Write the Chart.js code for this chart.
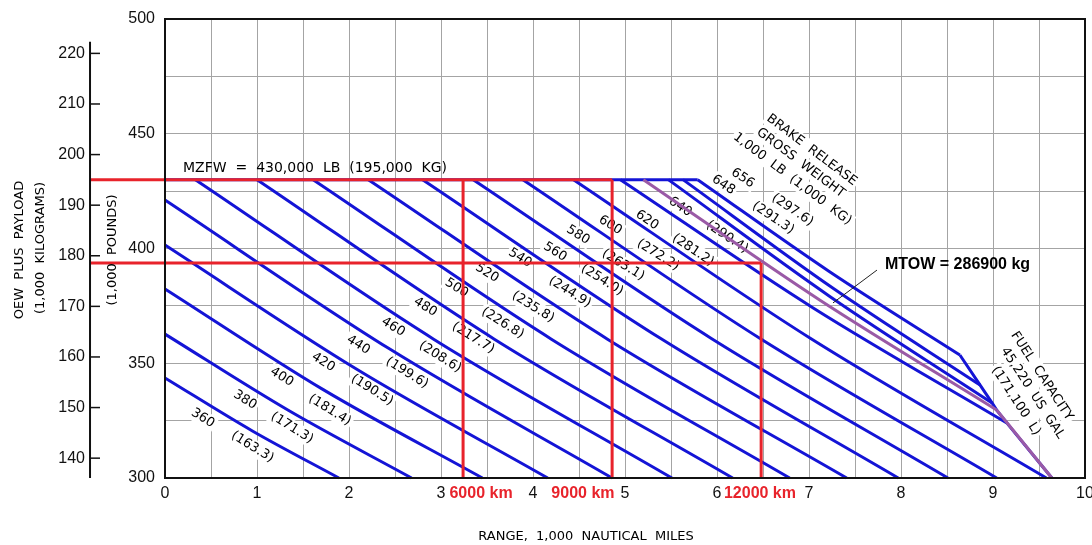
<!DOCTYPE html>
<html>
<head>
<meta charset="utf-8">
<script src="https://cdn.jsdelivr.net/npm/chart.js@4.4.0/dist/chart.umd.min.js"></script>
<style>
  html, body { margin: 0; padding: 0; background: #fff; }
  #wrap { width: 1092px; height: 545px; }
</style>
</head>
<body>
<div id="wrap"><canvas id="rangeChart" width="1092" height="545"></canvas></div>
<script>
// x = range (1,000 nm), y = OEW plus payload (1,000 lb)
const gw360 = [[0, 343.6], [0.95, 320.5], [1.89, 300]];
const gw380 = [[0, 362.7], [1.34, 329.5], [2.68, 300]];
const gw400 = [[0, 382.4], [1.72, 338.5], [3.45, 300]];
const gw420 = [[0, 401.5], [2.08, 347.5], [4.16, 300]];
const gw440 = [[0, 421.1], [2.43, 356.5], [4.86, 300]];
const gw460 = [[0.33, 430], [2.92, 360.5], [5.51, 300]];
const gw480 = [[1.00, 430], [3.58, 360.5], [6.17, 300]];
const gw500 = [[1.61, 430], [4.20, 360.5], [6.79, 300]];
const gw520 = [[2.21, 430], [4.81, 360.5], [7.41, 300]];
const gw540 = [[2.80, 430], [5.38, 361], [7.97, 300]];
const gw560 = [[3.35, 430], [5.93, 361], [8.51, 300]];
const gw580 = [[3.89, 430], [6.46, 361], [9.04, 300]];
const gw600 = [[4.44, 430], [7.01, 361], [9.58, 300]];
const gw620 = [[4.95, 430], [7.05, 374], [9.15, 324.0]];
const gw640 = [[5.47, 430], [7.23, 379], [8.99, 332.7]];
const gw648 = [[5.63, 430], [7.25, 383], [8.86, 340.5]];
const gw656 = [[5.79, 430], [7.22, 390], [8.64, 353.6]];
const mzfwCap = [[0, 430], [5.79, 430]];
const fuelLimit = [[8.64, 353.6], [8.86, 340.5], [8.99, 332.7], [9.04, 329.6], [9.15, 324.0], [9.64, 300]];
const mtowLine = [[5.20, 430], [7.12, 377.5], [9.04, 329.6]];
const mtowFuel = [[9.04, 329.6], [9.64, 300]];

const weightLines = [gw360, gw380, gw400, gw420, gw440, gw460, gw480, gw500, gw520,
  gw540, gw560, gw580, gw600, gw620, gw640, gw648, gw656];
const weightLb = ['360', '380', '400', '420', '440', '460', '480', '500', '520',
  '540', '560', '580', '600', '620', '640', '648', '656'];
const weightKg = ['(163.3)', '(171.3)', '(181.4)', '(190.5)', '(199.6)', '(208.6)', '(217.7)',
  '(226.8)', '(235.8)', '(244.9)', '(254.0)', '(263.1)', '(272.2)', '(281.2)', '(290.4)',
  '(291.3)', '(297.6)'];

// red reading lines
const kmNames = ['6000 km', '9000 km', '12000 km'];
const kmRangeNm = [3.24, 4.86, 6.48];
const mzfwLb = 430;
const mtowZfwLb = 393.7;
const kgAxisX = -0.815;

const rangeTicks = [0, 1, 2, 3, 4, 5, 6, 7, 8, 9, 10];
const lbTicks = [300, 350, 400, 450, 500];
const kgTicks = [140, 150, 160, 170, 180, 190, 200, 210, 220];
const LB_PER_KG = 2.20462;

// where the line labels sit (range, lb)
const lbLabelPos = [[0.41, 326.1], [0.87, 334.0], [1.27, 344.0], [1.72, 350.5], [2.10, 358.0],
  [2.48, 365.8], [2.83, 374.5], [3.17, 382.8], [3.50, 389.3], [3.86, 395.9], [4.24, 398.5],
  [4.49, 405.9], [4.84, 410.2], [5.24, 412.4], [5.60, 418.1], [6.07, 427.7], [6.28, 430.7]];
const kgLabelPos = [[0.95, 313.5], [1.38, 321.8], [1.79, 329.6], [2.25, 338.3], [2.63, 345.8],
  [2.99, 352.7], [3.35, 361.0], [3.67, 367.5], [4.00, 374.5], [4.40, 381.0], [4.75, 386.3],
  [4.98, 392.8], [5.36, 397.2], [5.74, 399.3], [6.11, 405.0], [6.61, 413.3], [6.82, 416.8]];

const BLUE = '#1414d6';
const RED = '#e8232b';
const PURPLE = '#9a5aa6';
const CAD = '13px "DejaVu Sans", sans-serif';

const pts = arr => arr.map(p => ({ x: p[0], y: p[1] }));

function lineSet(data, color, order, smooth) {
  return {
    data: pts(data),
    showLine: true,
    borderColor: color,
    borderWidth: 3,
    pointRadius: 0,
    tension: 0,
    cubicInterpolationMode: smooth ? 'monotone' : 'default',
    order: order,
    clip: false
  };
}

const datasets = [];
weightLines.forEach(l => datasets.push(lineSet(l, BLUE, 3, true)));
datasets.push(lineSet(mzfwCap, BLUE, 3, false));
datasets.push(lineSet(fuelLimit, BLUE, 3, false));
datasets.push(lineSet(mtowLine, PURPLE, 2, true));
datasets.push(lineSet(mtowFuel, PURPLE, 2, false));
datasets.push(lineSet([[kgAxisX, mzfwLb], [kmRangeNm[1], mzfwLb]], RED, 1, false));
datasets.push(lineSet([[kgAxisX, mtowZfwLb], [kmRangeNm[2], mtowZfwLb]], RED, 1, false));
datasets.push(lineSet([[kmRangeNm[0], mzfwLb], [kmRangeNm[0], 300]], RED, 1, false));
datasets.push(lineSet([[kmRangeNm[1], mzfwLb], [kmRangeNm[1], 300]], RED, 1, false));
datasets.push(lineSet([[kmRangeNm[2], mtowZfwLb], [kmRangeNm[2], 300]], RED, 1, false));

function rotText(ctx, text, x, y, deg, font, color) {
  ctx.save();
  ctx.translate(x, y);
  ctx.rotate(deg * Math.PI / 180);
  ctx.font = font;
  ctx.textAlign = 'center';
  ctx.textBaseline = 'middle';
  ctx.fillStyle = color || '#000';
  ctx.fillText(text, 0, 0);
  ctx.restore();
}

function rotBox(ctx, text, x, y, deg, font) {
  ctx.save();
  ctx.translate(x, y);
  ctx.rotate(deg * Math.PI / 180);
  ctx.font = font;
  const w = ctx.measureText(text).width;
  ctx.fillStyle = '#fff';
  ctx.fillRect(-w / 2 - 2, -8, w + 4, 16);
  ctx.restore();
}

const annotate = {
  id: 'annotate',
  beforeDatasetsDraw(chart) {
    const { ctx, scales: { x, y } } = chart;
    const items = [];
    weightLb.forEach((t, i) => items.push([t, lbLabelPos[i], i >= 13 ? 34 : 32]));
    weightKg.forEach((t, i) => items.push([t, kgLabelPos[i], i >= 13 ? 34 : 32]));
    items.push(['BRAKE  RELEASE', [7.03, 442.9], 37]);
    items.push(['GROSS  WEIGHT', [6.91, 437.3], 37]);
    items.push(['1,000  LB  (1,000  KG)', [6.82, 430.3], 37]);
    items.push(['FUEL  CAPACITY', [9.53, 344.4], 57]);
    items.push(['45,220  US  GAL', [9.43, 337.0], 57]);
    items.push(['(171,100  L)', [9.25, 333.6], 57]);
    items.forEach(it => rotBox(ctx, it[0], x.getPixelForValue(it[1][0]), y.getPixelForValue(it[1][1]), it[2], CAD));
    items.forEach(it => rotText(ctx, it[0], x.getPixelForValue(it[1][0]), y.getPixelForValue(it[1][1]), it[2], CAD));
  },
  afterDatasetsDraw(chart) {
    const { ctx, chartArea: a, scales: { x, y } } = chart;
    ctx.save();
    // frame
    ctx.strokeStyle = '#111';
    ctx.lineWidth = 2;
    ctx.strokeRect(a.left, a.top, a.right - a.left, a.bottom - a.top);

    // kg axis
    const kx = x.getPixelForValue(kgAxisX);
    ctx.beginPath();
    ctx.moveTo(kx, y.getPixelForValue(222.3 * LB_PER_KG));
    ctx.lineTo(kx, a.bottom);
    ctx.stroke();
    ctx.lineWidth = 1.5;
    ctx.font = '16px "Liberation Sans", Arial, sans-serif';
    ctx.fillStyle = '#111';
    ctx.textAlign = 'right';
    ctx.textBaseline = 'middle';
    kgTicks.forEach(k => {
      const py = y.getPixelForValue(k * LB_PER_KG);
      ctx.beginPath();
      ctx.moveTo(kx, py);
      ctx.lineTo(kx + 10, py);
      ctx.stroke();
      ctx.fillText(String(k), kx - 5, py);
    });

    // axis titles
    rotText(ctx, 'OEW  PLUS  PAYLOAD', 20, 250, -90, CAD);
    rotText(ctx, '(1,000  KILOGRAMS)', 41, 248, -90, CAD);
    rotText(ctx, '(1,000  POUNDS)', 113, 250, -90, CAD);
    rotText(ctx, 'RANGE,  1,000  NAUTICAL  MILES', 586, 537, 0, CAD);

    // MZFW note
    ctx.textAlign = 'left';
    ctx.font = '14px "DejaVu Sans", sans-serif';
    ctx.fillStyle = '#000';
    ctx.fillText('MZFW  =  430,000  LB  (195,000  KG)', x.getPixelForValue(0.196), y.getPixelForValue(435.1));

    // MTOW note with leader
    ctx.font = 'bold 16px "Liberation Sans", Arial, sans-serif';
    ctx.fillText('MTOW = 286900 kg', x.getPixelForValue(7.826), y.getPixelForValue(392.8));
    ctx.lineWidth = 1;
    ctx.strokeStyle = '#222';
    ctx.beginPath();
    ctx.moveTo(x.getPixelForValue(7.739), y.getPixelForValue(390.6));
    ctx.lineTo(x.getPixelForValue(7.261), y.getPixelForValue(376.3));
    ctx.stroke();

    // km labels
    ctx.font = 'bold 16px "Liberation Sans", Arial, sans-serif';
    ctx.fillStyle = RED;
    ctx.textAlign = 'center';
    const kmLabelX = [3.435, 4.543, 6.467];
    kmNames.forEach((t, i) => ctx.fillText(t, x.getPixelForValue(kmLabelX[i]), y.getPixelForValue(293.0)));
    ctx.restore();
  }
};

new Chart(document.getElementById('rangeChart'), {
  type: 'scatter',
  data: { datasets: datasets },
  options: {
    responsive: false,
    animation: false,
    layout: { padding: { top: 19, right: 7, left: 0, bottom: 0 } },
    plugins: { legend: { display: false }, tooltip: { enabled: false } },
    scales: {
      x: {
        type: 'linear',
        min: 0,
        max: 10,
        afterFit: s => { s.height = 67; s.paddingRight = 0; s.paddingLeft = 0; },
        ticks: {
          stepSize: 0.5,
          autoSkip: false,
          maxRotation: 0,
          padding: 6,
          color: '#111',
          font: { family: '"Liberation Sans", Arial, sans-serif', size: 16 },
          callback: v => rangeTicks.includes(v) ? String(v) : ''
        },
        grid: { color: '#a4a4a4', lineWidth: 1, drawTicks: false },
        border: { color: '#111', width: 2 }
      },
      y: {
        type: 'linear',
        min: 300,
        max: 500,
        afterFit: s => { s.width = 165; s.paddingTop = 0; s.paddingBottom = 0; },
        ticks: {
          stepSize: 25,
          autoSkip: false,
          padding: 10,
          color: '#111',
          font: { family: '"Liberation Sans", Arial, sans-serif', size: 16 },
          callback: v => lbTicks.includes(v) ? String(v) : ''
        },
        grid: { color: '#a4a4a4', lineWidth: 1, drawTicks: false },
        border: { color: '#111', width: 2 }
      }
    }
  },
  plugins: [annotate]
});
</script>
</body>
</html>
